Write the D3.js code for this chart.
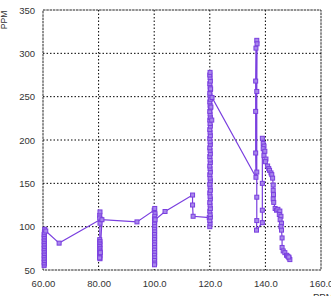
<!DOCTYPE html>
<html>
<head>
<meta charset="utf-8">
<script src="https://cdn.jsdelivr.net/npm/d3@7"></script>
<style>
  body { margin: 0; background: #fff; }
  text { font-family: "Liberation Sans", Arial, sans-serif; }
</style>
</head>
<body>
<svg id="chart" width="331" height="296"></svg>
<script>
// tick values and labels
const xTicks = [60, 80, 100, 120, 140, 160];
const xTickLabels = ["60.00", "80.00", "100.0", "120.0", "140.0", "160.0"];
const yTicks = [50, 100, 150, 200, 250, 300, 350];

// series in drawing order
const xs = [
  60.4, 60.5, 60.4, 60.5, 60.4, 60.5, 60.4, 60.5, 60.4, 60.5, 60.4,
  60.5, 60.4, 60.5, 60.4, 60.5, 60.4, 60.5, 60.4, 60.5, 60.6, 61.0,
  65.8,
  80.8, 80.4, 80.5, 80.4, 80.5, 80.4, 80.5, 80.4, 80.5, 80.4, 80.5, 80.4,
  80.5, 80.4, 80.5, 80.4, 80.5, 80.4, 80.6, 81.2,
  93.8,
  100.0, 100.2, 100.3, 100.2, 100.1, 100.2, 100.1, 100.2, 100.1, 100.2, 100.1, 100.2,
  100.1, 100.2, 100.1, 100.2, 100.1, 100.2, 100.1, 100.2, 100.1, 100.2, 100.1, 100.3,
  103.9, 113.8, 113.8, 114.0, 119.8,
  120.0, 120.1, 120.0, 120.2, 120.1, 120.0, 120.2, 120.1, 120.0, 120.2, 120.1, 120.0, 120.2,
  120.1, 120.0, 120.2, 120.1, 120.0, 120.2, 120.1, 120.0, 120.2, 120.1, 120.0, 120.2, 120.1,
  120.0, 120.2, 120.1, 120.0, 120.2, 120.1, 120.0, 120.2, 120.1, 120.0, 120.2, 120.1, 120.0,
  120.2, 120.1, 120.0, 120.2, 120.1, 120.0, 120.2, 120.1, 120.0, 120.2, 120.1, 120.0, 120.1,
  120.3, 120.7, 120.4, 120.8,
  136.6, 136.5, 136.5, 136.5, 136.6, 136.9, 137.0, 136.9, 136.9, 136.9, 136.9, 136.8,
  138.9, 138.9, 138.9, 138.9,
  139.2, 139.5, 139.2, 139.8, 139.5, 140.2, 140.0, 140.8, 141.2, 141.5, 142.0, 142.3, 142.6,
  142.8, 142.8, 142.9, 142.8, 143.0, 143.5, 144.0, 144.5, 145.2, 145.0, 145.6, 145.3, 145.8,
  145.6, 145.8, 146.0, 146.0, 146.4, 147.0, 147.6, 148.0, 148.5, 148.8, 148.4
];
const ys = [
  55, 57, 59, 61, 63, 65, 67, 69, 71, 73, 75,
  77, 79, 81, 83, 85, 87, 89, 91, 93, 97, 95,
  81,
  108.5, 113, 117, 110, 104, 85, 83, 81, 79, 77, 75, 73,
  71, 69, 67, 65, 63, 64, 70, 108,
  105.5,
  119, 121, 115, 112, 109, 106, 103, 100, 97, 94, 91, 88,
  85, 82, 79, 76, 73, 70, 67, 64, 61, 58, 56, 108,
  117.5, 136.5, 125, 112, 110.5,
  100, 104, 107, 111, 114, 118, 121, 125, 128, 132, 135, 139, 142,
  146, 149, 153, 156, 160, 163, 167, 170, 174, 177, 181, 184, 188,
  191, 195, 198, 202, 205, 209, 212, 216, 219, 223, 226, 230, 233,
  237, 240, 244, 247, 251, 254, 258, 261, 265, 268, 272, 275, 278,
  259, 223, 238, 249,
  157, 185, 233, 268, 306, 315, 311, 256, 163, 134, 107, 96,
  104.6, 119, 150, 202,
  196, 193, 190, 187, 182, 178, 175, 170, 167, 165, 162, 160, 156,
  148, 142, 137, 132, 128, 121, 119, 120, 118, 114, 112, 108, 104,
  100, 96, 87, 76, 72, 70, 67, 66, 64, 62, 65
];

const data = xs.map((x, i) => ({ x: x, y: ys[i] }));

const margin = { top: 10, right: 10, bottom: 26, left: 43 };
const width = 331 - margin.left - margin.right;
const height = 296 - margin.top - margin.bottom;

const svg = d3.select("#chart");
const g = svg.append("g")
  .attr("transform", `translate(${margin.left},${margin.top})`);

const x = d3.scaleLinear().domain([60, 160]).range([0, width]);
const y = d3.scaleLinear().domain([50, 350]).range([height, 0]);

// dotted grid
g.append("g")
  .selectAll("line")
  .data(xTicks.slice(1, -1))
  .enter().append("line")
  .attr("x1", d => x(d)).attr("x2", d => x(d))
  .attr("y1", 0).attr("y2", height)
  .attr("stroke", "#000").attr("stroke-width", 1)
  .attr("stroke-dasharray", "1.5,2");

g.append("g")
  .selectAll("line")
  .data(yTicks.slice(1, -1))
  .enter().append("line")
  .attr("x1", 0).attr("x2", width)
  .attr("y1", d => y(d)).attr("y2", d => y(d))
  .attr("stroke", "#000").attr("stroke-width", 1)
  .attr("stroke-dasharray", "1.5,2");

// axes (labels only, frame drawn separately)
const xAxis = d3.axisBottom(x)
  .tickValues(xTicks)
  .tickSize(0)
  .tickPadding(10)
  .tickFormat((d, i) => xTickLabels[i]);

const yAxis = d3.axisLeft(y)
  .tickValues(yTicks)
  .tickSize(0)
  .tickPadding(8)
  .tickFormat(d3.format("d"));

g.append("g")
  .attr("transform", `translate(0,${height})`)
  .call(xAxis)
  .call(s => s.select(".domain").remove())
  .selectAll("text")
  .attr("font-size", 9.5)
  .attr("fill", "#333");

g.append("g")
  .call(yAxis)
  .call(s => s.select(".domain").remove())
  .selectAll("text")
  .attr("font-size", 9.5)
  .attr("fill", "#333");

// frame
g.append("rect")
  .attr("x", 0).attr("y", 0)
  .attr("width", width).attr("height", height)
  .attr("fill", "none")
  .attr("stroke", "#222").attr("stroke-width", 1)
  .attr("stroke-dasharray", "2.5,0.8");

// axis titles
svg.append("text")
  .attr("transform", "translate(7,20) rotate(-90)")
  .attr("text-anchor", "middle")
  .attr("font-size", 8.5)
  .attr("fill", "#333")
  .text("PPM");

svg.append("text")
  .attr("x", 313).attr("y", 300)
  .attr("font-size", 9.5)
  .attr("fill", "#333")
  .text("PPM");

// series line and markers
const purple = "#7a3fdf";

g.append("path")
  .datum(data)
  .attr("fill", "none")
  .attr("stroke", purple)
  .attr("stroke-width", 1.2)
  .attr("d", d3.line().x(d => x(d.x)).y(d => y(d.y)));

g.append("g")
  .selectAll("rect")
  .data(data)
  .enter().append("rect")
  .attr("x", d => x(d.x) - 2)
  .attr("y", d => y(d.y) - 2)
  .attr("width", 4)
  .attr("height", 4)
  .attr("fill", "#a887ec")
  .attr("stroke", purple)
  .attr("stroke-width", 1);
</script>
</body>
</html>
